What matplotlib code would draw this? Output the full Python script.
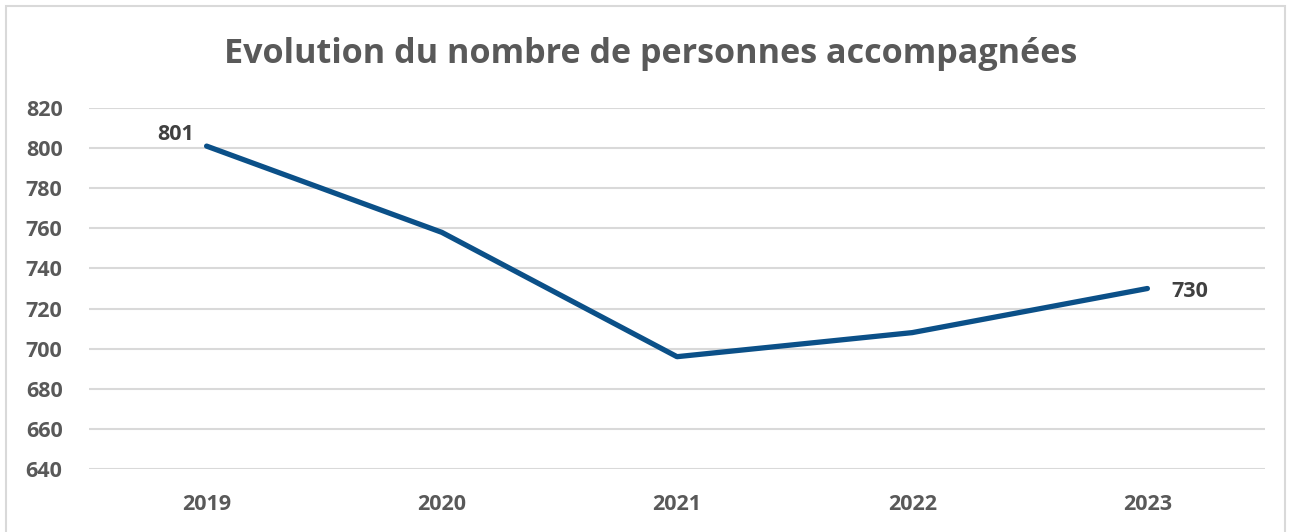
import numpy as np
import matplotlib.pyplot as plt
from matplotlib.patches import Rectangle

years = ['2019', '2020', '2021', '2022', '2023']
personnes = [801, 758, 696, 708, 730]
yticks = [640, 660, 680, 700, 720, 740, 760, 780, 800, 820]

plt.rcParams['font.family'] = ['Open Sans', 'DejaVu Sans']
grey = '#595959'

fig = plt.figure(figsize=(12.92, 5.32), dpi=100)
ax = fig.add_axes([89/1292, 1-469/532, (1265-89)/1292, (469-108)/532])

x = np.arange(len(years))
ax.plot(x, personnes, color='#0B5088', lw=3.8, solid_capstyle='round', zorder=3)

# data labels, first and last only
ax.annotate(str(personnes[0]), (x[0], personnes[0]), xytext=(-9, 1), textcoords='offset points',
            ha='right', va='bottom', fontsize=15.5, color='#404040', fontweight='bold')
ax.annotate(str(personnes[-1]), (x[-1], personnes[-1]), xytext=(17, -2), textcoords='offset points',
            ha='left', va='center', fontsize=15.5, color='#404040', fontweight='bold')

ax.set_xlim(-0.5, len(years) - 0.5)
ax.set_ylim(640, 820)
ax.set_yticks(yticks)
ax.set_xticks(x)
ax.set_xticklabels(years)
ax.grid(axis='y', color='#d9d9d9', lw=1.5)
ax.set_axisbelow(True)
for s in ax.spines.values():
    s.set_visible(False)
ax.tick_params(length=0, labelsize=15.5, labelcolor=grey)
ax.tick_params(axis='y', pad=19)
ax.tick_params(axis='x', pad=18)
for lab in ax.get_xticklabels() + ax.get_yticklabels():
    lab.set_fontweight('bold')

fig.text(651/1292, 1-54/532, 'Evolution du nombre de personnes accompagnées',
         ha='center', va='center', fontsize=24.6, color=grey, fontweight='bold')

fig.patches.append(Rectangle((6/1292, -0.01), (1285-6)/1292, 1-6/532+0.01, transform=fig.transFigure,
                             fill=False, edgecolor='#d9d9d9', lw=1.5))

fig.savefig('out.png', dpi=100)
